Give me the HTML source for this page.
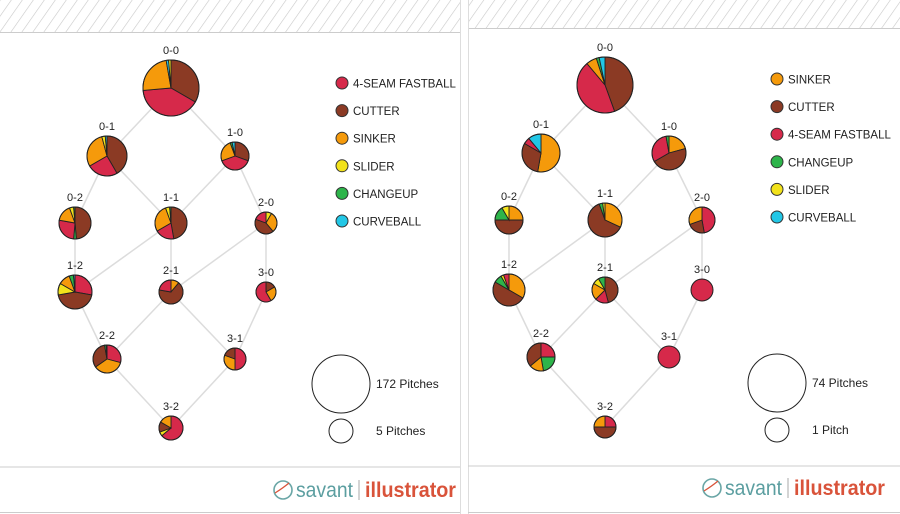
<!DOCTYPE html>
<html><head><meta charset="utf-8"><style>
body{margin:0;background:#fff;width:900px;height:514px;overflow:hidden}
svg{display:block}
text{font-family:"Liberation Sans",sans-serif;fill:#222}
</style></head><body>
<svg id="s" width="900" height="514" xmlns="http://www.w3.org/2000/svg">
<defs><pattern id="h" width="9" height="9" patternUnits="userSpaceOnUse" patternTransform="rotate(35)"><rect width="9" height="9" fill="#fff"/><line x1="0" y1="0" x2="0" y2="9" stroke="#c8c8c8" stroke-width="1.2"/></pattern></defs>
<rect x="0" y="0" width="460" height="32" fill="url(#h)"/>
<rect x="468" y="0" width="432" height="28" fill="url(#h)"/>
<line x1="0" y1="32.5" x2="460" y2="32.5" stroke="#ccc"/>
<line x1="468" y1="28.5" x2="900" y2="28.5" stroke="#ccc"/>
<line x1="460.5" y1="0" x2="460.5" y2="514" stroke="#ddd"/>
<line x1="468.5" y1="0" x2="468.5" y2="514" stroke="#ddd"/>
<line x1="0" y1="467" x2="460" y2="467" stroke="#ccc"/>
<line x1="468" y1="466" x2="900" y2="466" stroke="#ccc"/>
<line x1="0" y1="512.5" x2="460" y2="512.5" stroke="#ccc"/>
<line x1="468" y1="512.5" x2="900" y2="512.5" stroke="#ccc"/>
<g id="g"></g>
</svg>
<script>
const C={F:"#d6294a",C:"#8b3a24",S:"#f59a0b",L:"#f2e21b",H:"#2db44a",V:"#22c7e6"};
const g=document.getElementById('g');let o='';
const edges=[["00","01"],["00","10"],["01","02"],["01","11"],["10","11"],["10","20"],["02","12"],["11","12"],["11","21"],["20","21"],["20","30"],["12","22"],["21","22"],["21","31"],["30","31"],["22","32"],["31","32"]];
function pie(x,y,r,sl){let s='';
 if(sl.length==1){return `<circle cx="${x}" cy="${y}" r="${r}" fill="${C[sl[0][0]]}" stroke="#222" stroke-width="1"/>`;}
 for(const [k,a,b] of sl){const A=(a-90)*Math.PI/180,B=(b-90)*Math.PI/180;
  const x1=x+r*Math.cos(A),y1=y+r*Math.sin(A),x2=x+r*Math.cos(B),y2=y+r*Math.sin(B);
  s+=`<path d="M${x},${y}L${x1},${y1}A${r},${r} 0 ${b-a>180?1:0} 1 ${x2},${y2}Z" fill="${C[k]}" stroke="#222" stroke-width="0.9"/>`;}
 return s+`<circle cx="${x}" cy="${y}" r="${r}" fill="none" stroke="#222" stroke-width="1"/>`;}
function panel(N,leg,big,bigt,smt,lx,ly){
 for(const [a,b] of edges){o+=`<line x1="${N[a][0]}" y1="${N[a][1]}" x2="${N[b][0]}" y2="${N[b][1]}" stroke="#dcdcdc" stroke-width="1.5"/>`;}
 for(const k in N){const n=N[k];o+=`<text x="${n[0]}" y="${n[1]-n[2]-6}" font-size="11" text-anchor="middle">${k[0]}-${k[1]}</text>`;o+=pie(n[0],n[1],n[2],n[3]);}
 leg.forEach((l,i)=>{const y=ly+i*27.6;o+=`<circle cx="${lx}" cy="${y}" r="6" fill="${C[l[0]]}" stroke="#333"/><text x="${lx+11}" y="${y+4.5}" font-size="11.5">${l[1]}</text>`;});
 o+=`<circle cx="${big[0]}" cy="${big[1]}" r="29" fill="none" stroke="#222"/><text x="${big[0]+35}" y="${big[1]+4}" font-size="12">${bigt}</text>`;
 o+=`<circle cx="${big[0]}" cy="${big[1]+47}" r="12" fill="none" stroke="#222"/><text x="${big[0]+35}" y="${big[1]+51}" font-size="12">${smt}</text>`;}
panel({
"00":[171,88,28,[["C",0,120],["F",120,265],["S",265,350],["V",350,355],["L",355,360]]],
"01":[107,156,20,[["C",0,150],["F",150,240],["S",240,345],["L",345,355],["V",355,360]]],
"10":[235,156,14,[["C",0,110],["F",110,250],["S",250,340],["H",340,348],["V",348,360]]],
"02":[75,223,16,[["C",0,175],["H",175,185],["F",185,280],["S",280,340],["L",340,355],["H",355,360]]],
"11":[171,223,16,[["C",0,170],["F",170,240],["S",240,340],["L",340,355],["H",355,360]]],
"20":[266,223,11,[["L",0,30],["S",30,140],["C",140,290],["F",290,360]]],
"12":[75,292,17,[["F",0,100],["C",100,260],["L",260,300],["S",300,340],["H",340,355],["V",355,360]]],
"21":[171,292,12,[["S",0,40],["C",40,280],["F",280,360]]],
"30":[266,292,10,[["C",0,60],["S",60,150],["F",150,360]]],
"22":[107,359,14,[["F",0,105],["S",105,235],["C",235,350],["H",350,357],["L",357,360]]],
"31":[235,359,11,[["F",0,180],["S",180,290],["C",290,360]]],
"32":[171,428,12,[["F",0,230],["L",230,250],["C",250,300],["S",300,360]]]
},[["F","4-SEAM FASTBALL"],["C","CUTTER"],["S","SINKER"],["L","SLIDER"],["H","CHANGEUP"],["V","CURVEBALL"]],[341,384],"172 Pitches","5 Pitches",342,83);
panel({
"00":[605,85,28,[["C",0,160],["F",160,320],["S",320,342],["H",342,348],["V",348,360]]],
"01":[541,153,19,[["S",0,190],["C",190,300],["F",300,320],["V",320,360]]],
"10":[669,153,17,[["S",0,75],["C",75,240],["F",240,350],["H",350,360]]],
"02":[509,220,14,[["S",0,90],["C",90,270],["H",270,330],["L",330,360]]],
"11":[605,220,17,[["S",0,115],["C",115,340],["H",340,352],["L",352,360]]],
"20":[702,220,13,[["F",0,170],["C",170,250],["S",250,360]]],
"12":[509,290,16,[["S",0,120],["C",120,300],["H",300,330],["L",330,340],["F",340,360]]],
"21":[605,290,13,[["C",0,165],["F",165,225],["S",225,300],["L",300,330],["H",330,360]]],
"30":[702,290,11,[["F",0,360]]],
"22":[541,357,14,[["F",0,90],["H",90,170],["S",170,230],["C",230,360]]],
"31":[669,357,11,[["F",0,360]]],
"32":[605,427,11,[["F",0,90],["C",90,270],["S",270,360]]]
},[["S","SINKER"],["C","CUTTER"],["F","4-SEAM FASTBALL"],["H","CHANGEUP"],["L","SLIDER"],["V","CURVEBALL"]],[777,383],"74 Pitches","1 Pitch",777,79);
function logo(x,y){o+=`<circle cx="${x}" cy="${y}" r="9" fill="none" stroke="#6aa6a6" stroke-width="1.6"/><path d="M${x-8},${y+3}Q${x},${y-2} ${x+6},${y-7}" fill="none" stroke="#d9533a" stroke-width="1.3"/>`;
o+=`<text x="${x+13}" y="${y+7}" font-size="21" textLength="57" lengthAdjust="spacingAndGlyphs" style="fill:#5b9ea0">savant</text><line x1="${x+76}" y1="${y-10}" x2="${x+76}" y2="${y+10}" stroke="#aaa"/><text x="${x+82}" y="${y+7}" font-size="21" font-weight="bold" textLength="91" lengthAdjust="spacingAndGlyphs" style="fill:#d9533a">illustrator</text>`;}
logo(283,490);logo(712,488);
g.innerHTML=o;
</script>
</body></html>
